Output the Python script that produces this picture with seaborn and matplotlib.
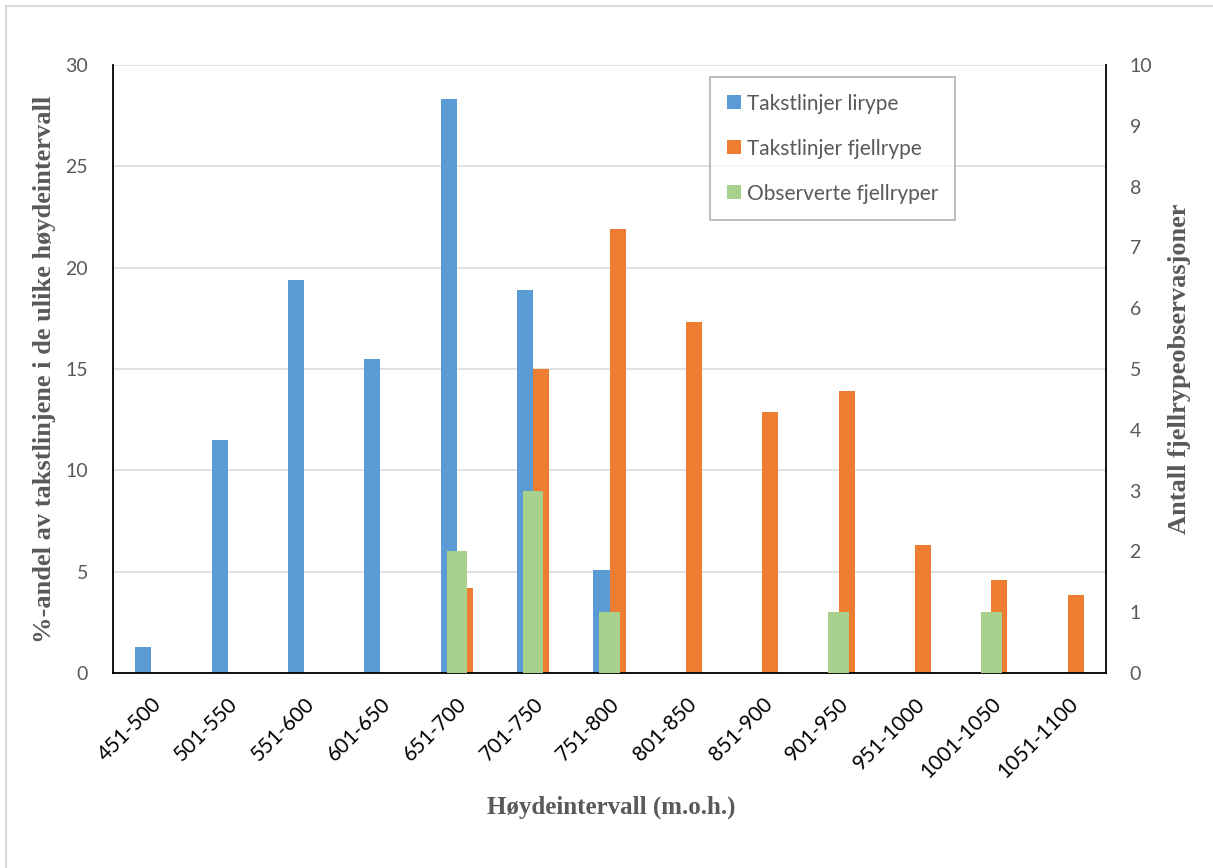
import matplotlib
matplotlib.use("Agg")
import matplotlib.pyplot as plt
from matplotlib.patches import Patch
from matplotlib.lines import Line2D
import seaborn as sns
import pandas as pd

# Height intervals (m.o.h.)
intervals = ["451-500", "501-550", "551-600", "601-650", "651-700", "701-750",
             "751-800", "801-850", "851-900", "901-950", "951-1000",
             "1001-1050", "1051-1100"]

# Share of transect lines per height interval (%)
lirype_pct = [1.3, 11.5, 19.4, 15.5, 28.3, 18.9, 5.1, 0, 0, 0, 0, 0, 0]
fjellrype_pct = [0, 0, 0, 0, 4.2, 15.0, 21.9, 17.3, 12.9, 13.9, 6.3, 4.6, 3.85]

# Number of rock ptarmigan observations per interval
observed = [0, 0, 0, 0, 2, 3, 1, 0, 0, 1, 0, 1, 0]

series_names = ["Takstlinjer lirype", "Takstlinjer fjellrype", "Observerte fjellryper"]
colors = ["#5B9BD5", "#ED7D31", "#A9D18E"]

pct_df = pd.DataFrame({
    "interval": intervals * 2,
    "value": lirype_pct + fjellrype_pct,
    "series": [series_names[0]] * len(intervals) + [series_names[1]] * len(intervals),
})
obs_df = pd.DataFrame({"interval": intervals, "value": observed})

sns.set_style("white")
tick_font = ["Lato", "DejaVu Sans"]
title_font = ["Liberation Serif", "DejaVu Serif"]
grey_text = "#595959"

fig = plt.figure(figsize=(12.13, 8.68), dpi=100)
ax = fig.add_axes([113 / 1213, 1 - 673 / 868, (1106 - 113) / 1213, (673 - 65) / 868])

sns.barplot(data=pct_df, x="interval", y="value", hue="series", order=intervals,
            hue_order=series_names[:2], palette=colors[:2], width=0.42, gap=0,
            dodge=True, errorbar=None, linewidth=0, legend=False, ax=ax, zorder=2)

ax2 = ax.twinx()
sns.barplot(data=obs_df, x="interval", y="value", order=intervals, color=colors[2],
            width=0.266, errorbar=None, linewidth=0, saturation=1, ax=ax2, zorder=3)

# keep the series colours exact (no desaturation)
for bar, c in zip(ax.patches, [colors[0]] * len(intervals) + [colors[1]] * len(intervals)):
    bar.set_facecolor(c)

ax.set_xlim(-0.5, len(intervals) - 0.5)
ax2.set_xlim(-0.5, len(intervals) - 0.5)
ax.set_ylim(0, 30)
ax2.set_ylim(0, 10)
ax.set_yticks(range(0, 31, 5))
ax2.set_yticks(range(0, 11, 1))

ax.yaxis.grid(True, color="#D9D9D9", linewidth=1.1, zorder=0)
ax.set_axisbelow(True)

for a in (ax, ax2):
    a.spines["top"].set_visible(False)
ax.spines["right"].set_visible(False)
ax2.spines["left"].set_visible(False)
ax2.spines["bottom"].set_visible(False)
for sp in (ax.spines["left"], ax.spines["bottom"], ax2.spines["right"]):
    sp.set_color("black")
    sp.set_linewidth(1.3)

ax.tick_params(axis="y", length=0, pad=18, labelsize=14, labelcolor=grey_text)
ax2.tick_params(axis="y", length=0, pad=17, labelsize=14, labelcolor=grey_text)
ax.tick_params(axis="x", length=0, pad=15)
for lab in ax.get_yticklabels() + ax2.get_yticklabels():
    lab.set_family(tick_font)

ax.set_xticks(range(len(intervals)))
ax.set_xticklabels(intervals, rotation=45, ha="right", rotation_mode="anchor",
                   fontsize=15, color="black", family=tick_font)

ax.set_xlabel("Høydeintervall (m.o.h.)", fontsize=18, fontweight="bold",
              color=grey_text, family=title_font)
ax.set_ylabel("%-andel av takstlinjene i de ulike høydeintervall", fontsize=19,
              fontweight="bold", color=grey_text, family=title_font)
ax2.set_ylabel("Antall fjellrypeobservasjoner", fontsize=19, fontweight="bold",
               color=grey_text, family=title_font)
ax.xaxis.set_label_coords(0.5015, -0.202)
ax.yaxis.set_label_coords(-0.0685, 0.5)
ax2.yaxis.set_label_coords(1.0745, 0.5)
ax.yaxis.label.set_verticalalignment("center")
ax2.yaxis.label.set_verticalalignment("center")

handles = [Patch(facecolor=c, edgecolor="none") for c in colors]
leg = ax2.legend(handles, series_names, loc="upper left",
                 bbox_to_anchor=(710 / 1213, 1 - 77 / 868), bbox_transform=fig.transFigure,
                 borderaxespad=0, frameon=True, fancybox=False, edgecolor="#A6A6A6",
                 prop={"family": tick_font, "size": 15}, labelcolor=grey_text,
                 handlelength=0.67, handleheight=0.67, handletextpad=0.3,
                 labelspacing=1.2, borderpad=0.8)
leg.get_frame().set_linewidth(1.3)
leg.set_zorder(10)

# outer chart frame (top and left edges)
fig.add_artist(Line2D([6 / 1213, 6 / 1213], [0, 1 - 6 / 868], transform=fig.transFigure,
                      color="#D9D9D9", linewidth=1.5))
fig.add_artist(Line2D([6 / 1213, 1], [1 - 6 / 868, 1 - 6 / 868], transform=fig.transFigure,
                      color="#D9D9D9", linewidth=1.5))

fig.savefig("out.png", dpi=100)
